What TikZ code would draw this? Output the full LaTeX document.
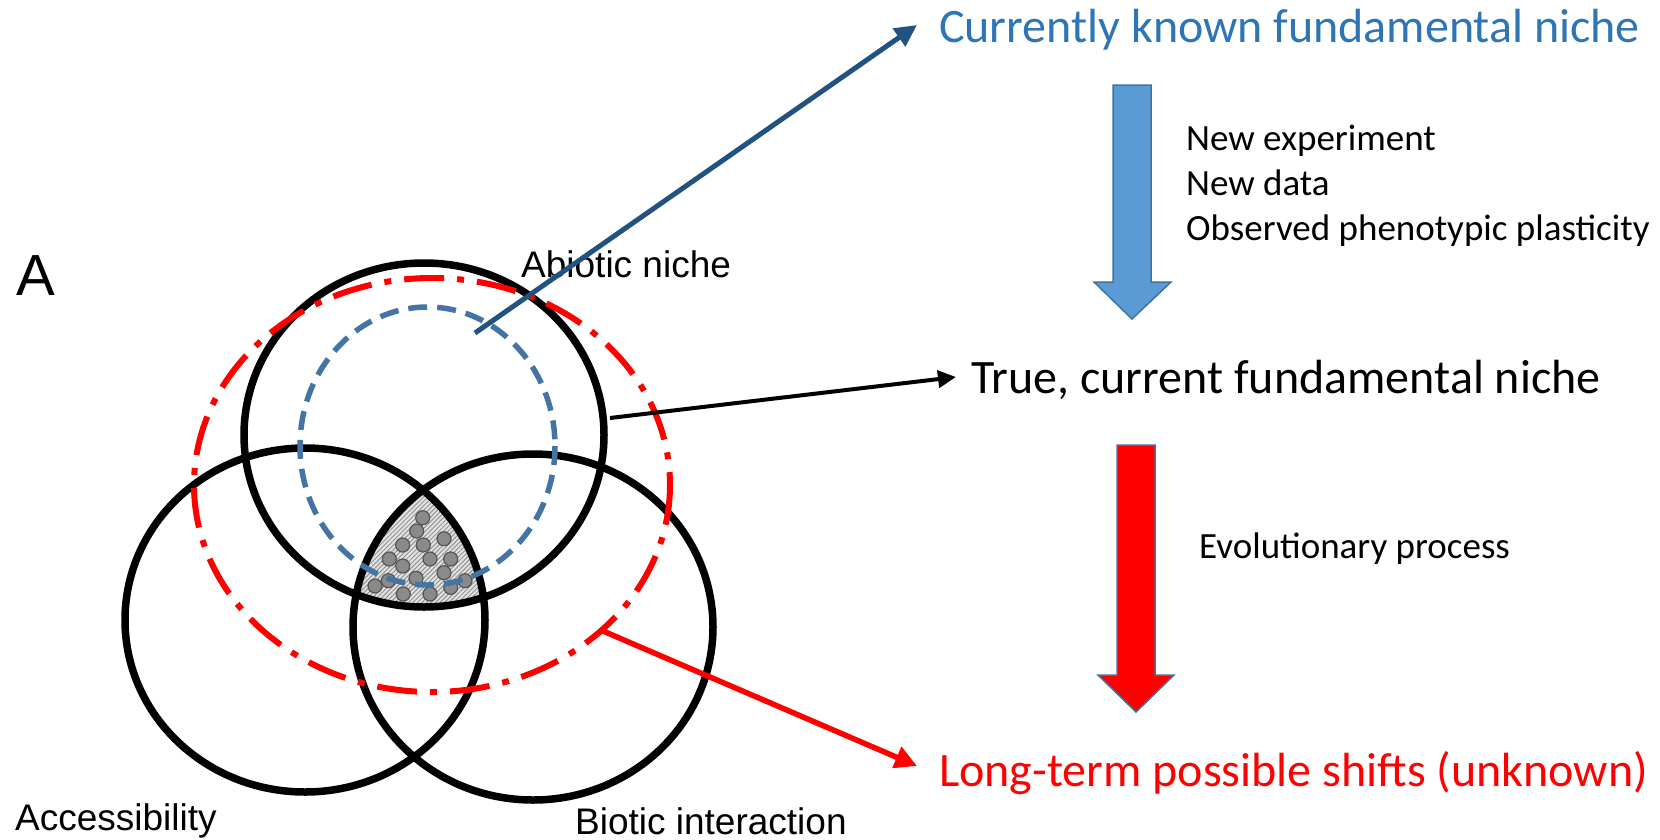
\documentclass[tikz,border=0pt]{standalone}
\usepackage{fontspec}
\setmainfont{Carlito}
\newfontfamily\arialf{Liberation Sans}
\usetikzlibrary{arrows.meta,patterns.meta}
\definecolor{textblue}{HTML}{2E75B6}
\definecolor{lineblue}{HTML}{22527F}
\definecolor{dashblue}{HTML}{4374A3}
\definecolor{blockblue}{HTML}{5B9BD5}
\definecolor{blockedge}{HTML}{41719C}
\definecolor{dotgray}{HTML}{8A8A8A}
\definecolor{dotedge}{HTML}{555555}
\tikzset{
  venn/.style={line width=7.5pt, black},
  reddash/.style={line width=6pt, red, dash pattern=on 40pt off 13pt on 7pt off 13pt},
  bluedash/.style={line width=5.5pt, dashblue, dash pattern=on 19pt off 10pt},
  bigtext/.style={font=\fontsize{48}{58}\selectfont, anchor=base west, inner sep=0pt},
  smalltext/.style={font=\fontsize{37}{45}\selectfont, anchor=base west, inner sep=0pt},
  arialtext/.style={font=\arialf\fontsize{37}{44}\selectfont, anchor=base west, inner sep=0pt},
  dot/.style={fill=dotgray, draw=dotedge, line width=1.2pt},
  blockarrow/.style={draw=blockedge, line width=1.5pt, line join=miter},
}
\begin{document}
\begin{tikzpicture}[x=1pt,y=-1pt]
\useasboundingbox (0,0) rectangle (1660,839);

% shaded triple intersection
\begin{scope}
  \clip (424,435) ellipse [x radius=180, y radius=172];
  \clip (305,620) ellipse [x radius=180, y radius=172];
  \clip (533,627) ellipse [x radius=180, y radius=173];
  \fill[gray!22] (300,400) rectangle (600,700);
  \fill[pattern={Lines[angle=45,distance=3.2pt,line width=1pt]}, pattern color=gray!85] (300,400) rectangle (600,700);
\end{scope}

% dots
\foreach \px/\py in {422.7/517.7, 416.7/531, 444/538.7, 402.7/545, 423.3/545, 389.3/559, 402.7/566, 430/559, 450.7/559, 444/572.7, 416/578.3, 375/586, 388.3/580.7, 403.3/594, 430/594, 450.7/587.3, 465/580.7}
  \draw[dot] (\px,\py) circle [radius=7];

% Venn circles
\draw[venn] (424,435) ellipse [x radius=180, y radius=172];
\draw[venn] (305,620) ellipse [x radius=180, y radius=172];
\draw[venn] (533,627) ellipse [x radius=180, y radius=173];

% blue dashed and red dash-dot
\draw[bluedash] (427.5,446) ellipse [x radius=127.5, y radius=139];
\draw[reddash] (432,485) ellipse [x radius=238, y radius=207];

% labels of the Venn diagram
\node[font=\arialf\fontsize{58}{66}\selectfont, anchor=base west, inner sep=0pt] (labA) at (16,295) {A};
\node[arialtext] (abio) at (521,277) {Abiotic niche};
\node[arialtext] (acc) at (15,830) {Accessibility};
\node[arialtext] (bio) at (575,834) {Biotic interaction};

% right-hand texts
\node[bigtext, text=textblue] (known) at (939,42) {Currently known fundamental niche};
\node[bigtext] (true) at (971,393) {True, current fundamental niche};
\node[bigtext, text=red] (long) at (939,786) {Long-term possible shifts (unknown)};
\node[smalltext] (ne) at (1186,150) {New experiment};
\node[smalltext] (nd) at (1186,195) {New data};
\node[smalltext] (op) at (1186,240) {Observed phenotypic plasticity};
\node[smalltext] (evo) at (1199,558) {Evolutionary process};

% connector end points
\coordinate (bstart) at (475,333);
\coordinate (btip) at (917,25);
\coordinate (kstart) at (610,418);
\coordinate (ktip) at (956,377);
\coordinate (rstart) at (603,631);
\coordinate (rtip) at (917,766);

\draw[lineblue, line width=5pt, -{Triangle[length=22pt,width=21pt]}] (bstart) -- (btip);
\draw[black, line width=4pt, -{Triangle[length=18pt,width=17pt]}] (kstart) -- (ktip);
\draw[red, line width=5.5pt, -{Triangle[length=22pt,width=22pt]}] (rstart) -- (rtip);

% block arrows
\draw[blockarrow, fill=blockblue] (1113,85) -- (1151,85) -- (1151,282) -- (1171,282) -- (1132,319) -- (1094,282) -- (1113,282) -- cycle;
\draw[blockarrow, fill=red] (1117,445) -- (1155,445) -- (1155,675) -- (1174,675) -- (1136,712) -- (1098,675) -- (1117,675) -- cycle;
\end{tikzpicture}
\end{document}
